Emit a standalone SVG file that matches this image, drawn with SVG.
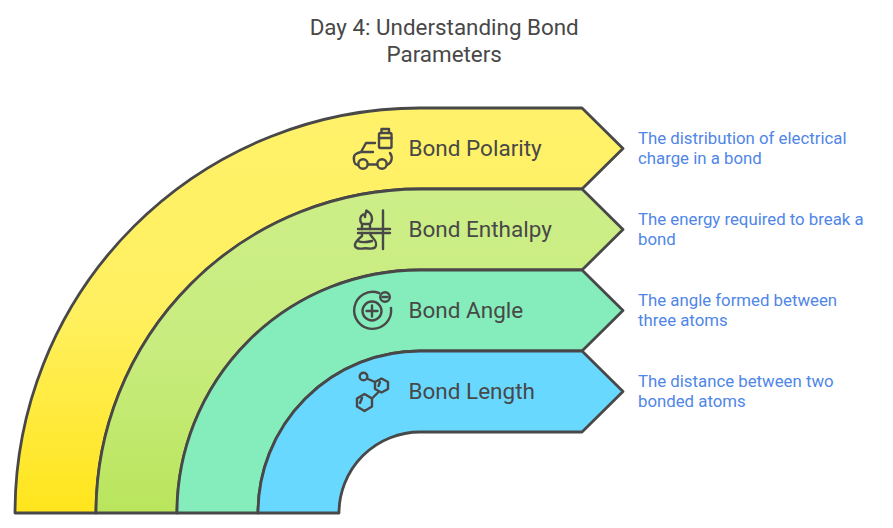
<svg xmlns="http://www.w3.org/2000/svg" width="893" height="528" viewBox="0 0 893 528">
<style>
.band{stroke:#484848;stroke-width:2.8;stroke-linejoin:round}
.ic{fill:none;stroke:#484848;stroke-width:2.4;stroke-linecap:round;stroke-linejoin:round}
text{font-family:Roboto,"Liberation Sans",sans-serif}
.t{font-size:22.4px;fill:#484848;text-anchor:middle}
.l{font-size:22.5px;fill:#484848}
.d{font-size:16.8px;fill:#4f86e8}
</style>
<defs>
<linearGradient id="gy" x1="0" y1="0" x2="0" y2="1"><stop offset="0" stop-color="#fff16a"/><stop offset="0.5" stop-color="#fff060"/><stop offset="1" stop-color="#ffe51c"/></linearGradient>
<linearGradient id="gl" x1="0" y1="0" x2="0" y2="1"><stop offset="0" stop-color="#cdee88"/><stop offset="0.5" stop-color="#c8ec7e"/><stop offset="1" stop-color="#b9e55c"/></linearGradient>
</defs>
<rect width="893" height="528" fill="#fff"/>
<g id="title"><text class="t" x="444.200" y="35">Day 4: Understanding Bond</text><text class="t" x="444.200" y="62">Parameters</text></g>
<g id="polarity">
<path class="band" fill="url(#gy)" d="M15 513A405 405 0 0 1 420 108H582L623 148.500L582 189H420A324 324 0 0 0 96 513Z"/>
<g class="ic"><rect x="379" y="133" width="12.500" height="15" rx="1.500"/><path d="M381.500 133V129H389V133M379 138H391.500"/><path d="M375 143H366L361 152H373M361 152C356 153 353 155 354 160C354 163 356 165 358 165M368 164.500H377M390 153C393 157 392 163 387 165"/><circle cx="363" cy="164" r="4.700"/><circle cx="382" cy="164" r="4.700"/></g>
<text class="l" x="408.500" y="156">Bond Polarity</text>
</g>
<g id="enthalpy">
<path class="band" fill="url(#gl)" d="M96 513A324 324 0 0 1 420 189H582L623 229.500L582 270H420A243 243 0 0 0 177 513Z"/>
<g class="ic"><path d="M383 210.500V249M358 229H390M358 233H390"/><path d="M362 229V224C359 221 360 216 363 214.500C364 214 365 216 365 217C365 214 366 212 366.500 210.500C369 212 372 215 372 219C372 221 371 223 370 224V229M362 224H370"/><path d="M362 233V236C357 240 354 243 355 246C356 249 359 249 363 248.500C367 247.500 372 250 375 247.500C377 245 376 241 373 238C371 236 370 235 370 233M358 241C362 243 368 242 372 241"/></g>
<text class="l" x="408.500" y="237">Bond Enthalpy</text>
</g>
<g id="angle">
<path class="band" fill="#85edbb" d="M177 513A243 243 0 0 1 420 270H582L623 310.500L582 351H420A162 162 0 0 0 258 513Z"/>
<g class="ic"><path d="M379 293A18.500 18.500 0 1 0 391 308"/><circle cx="372" cy="311" r="9.500"/><path d="M366.500 311H377.500M372 305.500V316.500"/><circle cx="385" cy="297" r="4.800"/><path d="M382.500 297H387.500"/></g>
<text class="l" x="408.500" y="318">Bond Angle</text>
</g>
<g id="length">
<path class="band" fill="#69d8ff" d="M258 513A162 162 0 0 1 420 351H582L623 391.500L582 432H420A81 81 0 0 0 339 513Z"/>
<g class="ic"><circle cx="363.500" cy="376.500" r="3.800"/><path d="M368 379L375 382M381.500 378.500L388 382V389L381.500 392.500L375 389V382ZM380 382L378.500 386M378 392.500L372 398.500M364.500 394L372 398.500V406.500L364.500 411L357 406.500V398.500ZM362 398L360 403"/></g>
<text class="l" x="408.500" y="399">Bond Length</text>
</g>
<g id="descriptions">
<text class="d" x="638" y="144">The distribution of electrical</text><text class="d" x="638" y="164">charge in a bond</text>
<text class="d" x="638" y="225">The energy required to break a</text><text class="d" x="638" y="245">bond</text>
<text class="d" x="638" y="306">The angle formed between</text><text class="d" x="638" y="326">three atoms</text>
<text class="d" x="638" y="387">The distance between two</text><text class="d" x="638" y="407">bonded atoms</text>
</g>
</svg>
